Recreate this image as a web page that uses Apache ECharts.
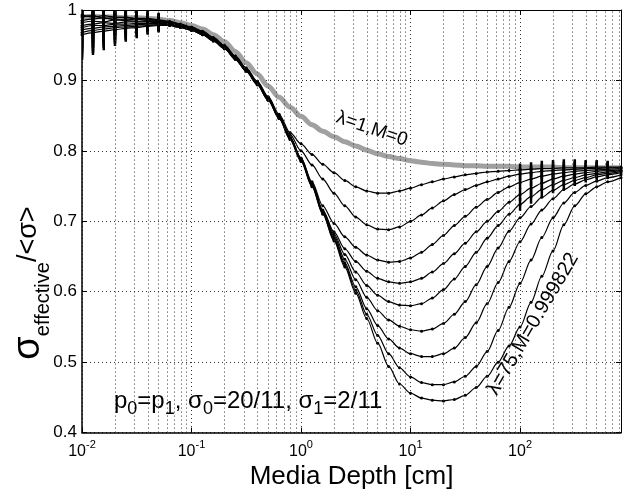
<!DOCTYPE html>
<html><head><meta charset="utf-8">
<script src="https://cdn.jsdelivr.net/npm/echarts@6/dist/echarts.min.js"></script>
<style>html,body{margin:0;padding:0;background:#fff}#c{width:629px;height:495px}</style>
</head><body><div id="c"></div>
<script>
// x samples (cm)
const X = [0.01,0.0126,0.0158,0.02,0.0251,0.0316,0.0398,0.0501,
  0.0631,0.0794,0.1,0.126,0.158,0.2,0.251,0.316,0.398,0.501,0.631,0.794,
  1,1.26,1.58,2,2.51,3.16,3.98,5.01,6.31,7.94,
  10,12.6,15.8,20,25.1,31.6,39.8,50.1,63.1,79.4,
  100,126,158,200,251,316,398,501,631,835];
// lambda=1, M=0 (gray)
const GRAY = [0.99,0.991,0.99,0.99,0.989,0.989,0.988,0.987,
  0.985,0.982,0.978,0.973,0.965,0.955,0.941,0.925,0.909,0.892,0.876,0.862,
  0.849,0.837,0.828,0.82,0.813,0.807,0.801,0.796,0.792,0.789,
  0.786,0.784,0.782,0.781,0.78,0.779,0.779,0.778,0.778,0.778,
  0.777,0.777,0.777,0.777,0.776,0.776,0.776,0.776,0.776,0.776];
const C1 = [0.993,0.99,0.992,0.99,0.989,0.988,0.988,0.986,
  0.984,0.98,0.976,0.97,0.961,0.95,0.935,0.918,0.899,0.877,0.852,0.826,
  0.81,0.795,0.781,0.769,0.758,0.749,0.743,0.74,0.74,0.743,
  0.747,0.752,0.756,0.76,0.763,0.766,0.768,0.77,0.771,0.772,
  0.773,0.774,0.775,0.775,0.776,0.776,0.776,0.777,0.777,0.777];
const C2 = [0.99,0.992,0.988,0.989,0.99,0.987,0.987,0.985,
  0.983,0.979,0.975,0.969,0.96,0.949,0.934,0.917,0.898,0.876,0.85,0.823,
  0.8,0.78,0.76,0.74,0.722,0.706,0.695,0.689,0.688,0.692,
  0.7,0.709,0.719,0.729,0.738,0.745,0.751,0.756,0.76,0.764,
  0.767,0.769,0.771,0.772,0.773,0.774,0.775,0.775,0.776,0.776];
const C3 = [0.985,0.987,0.989,0.986,0.986,0.987,0.985,0.984,
  0.982,0.978,0.974,0.968,0.959,0.948,0.933,0.916,0.897,0.875,0.849,0.82,
  0.79,0.756,0.722,0.697,0.678,0.663,0.652,0.645,0.642,0.643,
  0.648,0.656,0.667,0.68,0.694,0.707,0.72,0.731,0.741,0.749,
  0.755,0.76,0.764,0.767,0.769,0.771,0.772,0.773,0.774,0.775];
const C4 = [0.982,0.984,0.983,0.986,0.985,0.984,0.984,0.983,
  0.981,0.978,0.973,0.967,0.958,0.947,0.932,0.915,0.896,0.874,0.848,0.819,
  0.789,0.754,0.716,0.685,0.661,0.643,0.629,0.619,0.614,0.612,
  0.614,0.619,0.628,0.64,0.654,0.669,0.685,0.7,0.714,0.727,
  0.738,0.747,0.754,0.76,0.764,0.767,0.769,0.771,0.772,0.773];
const C5 = [0.978,0.98,0.982,0.981,0.983,0.983,0.983,0.982,
  0.98,0.977,0.973,0.967,0.958,0.947,0.932,0.915,0.896,0.874,0.848,0.819,
  0.789,0.753,0.715,0.682,0.653,0.628,0.609,0.595,0.586,0.581,
  0.58,0.583,0.591,0.603,0.618,0.636,0.656,0.676,0.694,0.71,
  0.724,0.735,0.745,0.752,0.758,0.762,0.766,0.768,0.77,0.772];
const C6 = [0.975,0.978,0.978,0.98,0.98,0.981,0.981,0.981,
  0.979,0.976,0.972,0.966,0.957,0.946,0.931,0.914,0.895,0.873,0.847,0.818,
  0.788,0.752,0.714,0.679,0.646,0.617,0.592,0.573,0.56,0.551,
  0.546,0.544,0.547,0.555,0.568,0.586,0.61,0.636,0.662,0.686,
  0.705,0.721,0.734,0.744,0.752,0.758,0.762,0.766,0.768,0.771];
const C7 = [0.972,0.974,0.976,0.977,0.978,0.979,0.98,0.98,
  0.979,0.976,0.972,0.966,0.957,0.946,0.931,0.914,0.895,0.873,0.847,0.818,
  0.787,0.751,0.712,0.676,0.641,0.607,0.576,0.552,0.533,0.52,
  0.512,0.508,0.508,0.512,0.52,0.535,0.556,0.583,0.613,0.643,
  0.671,0.696,0.716,0.732,0.745,0.753,0.759,0.763,0.766,0.769];
const C8 = [0.968,0.971,0.973,0.975,0.976,0.977,0.978,0.979,
  0.978,0.975,0.971,0.965,0.956,0.945,0.93,0.913,0.894,0.872,0.846,0.817,
  0.786,0.75,0.711,0.674,0.638,0.602,0.568,0.538,0.512,0.492,
  0.479,0.471,0.468,0.468,0.472,0.48,0.494,0.515,0.545,0.578,
  0.612,0.645,0.677,0.705,0.726,0.741,0.751,0.757,0.762,0.766];
const C9 = [0.965,0.968,0.97,0.972,0.974,0.975,0.977,0.978,
  0.978,0.975,0.971,0.965,0.956,0.945,0.93,0.913,0.894,0.872,0.846,0.816,
  0.785,0.749,0.71,0.672,0.635,0.598,0.562,0.527,0.494,0.469,
  0.456,0.449,0.446,0.445,0.447,0.453,0.464,0.48,0.5,0.523,
  0.55,0.585,0.622,0.658,0.695,0.722,0.739,0.749,0.756,0.762];
// error-bar half widths: first 8 samples (all curves), samples from index RIGHT_START (upper curves)
const ERR_LEFT = [0.036,0.032,0.027,0.023,0.019,0.015,0.012,0.01];
const ERR_RIGHT = [0.009,0.01,0.011,0.012,0.012,0.012,0.011,0.01,0.009];
const RIGHT_START = 40;
const RIGHT_BAR_CURVES = [1,1,1,1,1,0,0,0,0];
// grid values
const X_MINOR = [0.02,0.03,0.04,0.05,0.06,0.07,0.08,0.09,
  0.2,0.3,0.4,0.5,0.6,0.7,0.8,0.9,2,3,4,5,6,7,8,9,
  20,30,40,50,60,70,80,90,200,300,400,500,600,700,800];
const X_MIN = 0.01, X_MAX = 835;
const Y_MIN = 0.4, Y_MAX = 1, Y_STEP = 0.1;

const FONT = '"Liberation Sans", Arial, Helvetica, sans-serif';
const BLACK = [C1,C2,C3,C4,C5,C6,C7,C8,C9];
const pairs = v => X.map((x,i)=>[x, v[i]]);
const errData = [];
BLACK.forEach((v,ci)=>{
  ERR_LEFT.forEach((e,i)=>errData.push([X[i], v[i]-e, v[i]+e]));
  if (RIGHT_BAR_CURVES[ci]) ERR_RIGHT.forEach((e,k)=>{const i=RIGHT_START+k; errData.push([X[i], v[i]-e, v[i]+e]);});
});

const dotted = {type:[1,3], color:'#333', width:1};
const chart = echarts.init(document.getElementById('c'));
const series = [];
series.push({type:'line', data:[], z:1, silent:true,
  markLine:{silent:true, symbol:['none','none'], label:{show:false}, animation:false,
    lineStyle:dotted, data:X_MINOR.map(v=>({xAxis:v}))}});
series.push({type:'line', data:pairs(GRAY), symbol:'none', smooth:0.3, smoothMonotone:'x',
  lineStyle:{color:'#a0a0a0', width:5}, z:2});
BLACK.forEach(v=>series.push({type:'line', data:pairs(v), symbol:'circle', symbolSize:3, smooth:0.3, smoothMonotone:'x',
  itemStyle:{color:'#000'}, lineStyle:{color:'#000', width:1.2}, z:3}));
series.push({type:'custom', data:errData, clip:true, z:4, encode:{x:0,y:[1,2]},
  renderItem:function(params, api){
    const a = api.coord([api.value(0), api.value(1)]);
    const b = api.coord([api.value(0), api.value(2)]);
    return {type:'line', shape:{x1:a[0],y1:a[1],x2:b[0],y2:b[1]}, style:{stroke:'#000', lineWidth:2.5}};
  }});

chart.setOption({
  animation:false,
  grid:{left:82, right:8, top:10, bottom:60, containLabel:false},
  xAxis:[{type:'log', logBase:10, min:X_MIN, max:X_MAX,
    name:'Media Depth [cm]', nameLocation:'middle', nameGap:30,
    nameTextStyle:{fontFamily:FONT, fontSize:26, color:'#000'},
    axisLine:{lineStyle:{color:'#000', width:1.5}},
    axisTick:{inside:true, length:5, lineStyle:{color:'#000'}},
    splitLine:{show:true, lineStyle:dotted},
    axisLabel:{margin:7, color:'#000', fontFamily:FONT,
      formatter:function(v){const e=Math.log10(v); if (Math.abs(e-Math.round(e))>1e-6) return ''; return '{b|10}{s|'+Math.round(e)+'}';},
      rich:{b:{fontSize:16, fontFamily:FONT, color:'#000'}, s:{fontSize:11, fontFamily:FONT, color:'#000', padding:[0,0,12,0]}}}},
   {type:'log', logBase:10, min:X_MIN, max:X_MAX, position:'top',
    axisLine:{lineStyle:{color:'#000', width:1}}, axisTick:{inside:true, length:5, lineStyle:{color:'#000'}},
    axisLabel:{show:false}, splitLine:{show:false}}],
  yAxis:[{type:'value', min:Y_MIN, max:Y_MAX, interval:Y_STEP,
    axisLine:{show:true, lineStyle:{color:'#000', width:1.5}},
    axisTick:{show:true, inside:true, length:5, lineStyle:{color:'#000'}},
    splitLine:{show:true, lineStyle:dotted},
    axisLabel:{margin:5, color:'#000', fontFamily:FONT, fontSize:17}},
   {type:'value', min:Y_MIN, max:Y_MAX, interval:Y_STEP, position:'right',
    axisLine:{show:true, lineStyle:{color:'#000', width:1}},
    axisTick:{show:true, inside:true, length:5, lineStyle:{color:'#000'}},
    axisLabel:{show:false}, splitLine:{show:false}}],
  series:series,
  graphic:[
    {type:'text', x:29, y:283, rotation:Math.PI/2, silent:true,
      style:{text:'{s|σ}{sub|effective}{r|/<σ>}', align:'center', verticalAlign:'middle', textAlign:'center', textVerticalAlign:'middle',
        rich:{s:{fontSize:38, fontFamily:FONT, fill:'#000'}, sub:{fontSize:20, fontFamily:FONT, fill:'#000', padding:[28,0,0,0]}, r:{fontSize:27, fontFamily:FONT, fill:'#000'}}}},
    {type:'text', x:372, y:129, rotation:-0.33, silent:true,
      style:{text:'λ=1,M=0', fontSize:19, fontFamily:FONT, fill:'#000', align:'center', verticalAlign:'middle', textAlign:'center', textVerticalAlign:'middle'}},
    {type:'text', x:533, y:324, rotation:1.037, silent:true,
      style:{text:'λ=75,M=0.999822', fontSize:20, fontFamily:FONT, fill:'#000', align:'center', verticalAlign:'middle', textAlign:'center', textVerticalAlign:'middle'}},
    {type:'text', x:114, y:401, silent:true,
      style:{text:'{m|p}{sub|0}{m|=p}{sub|1}{m|, σ}{sub|0}{m|=20/11, σ}{sub|1}{m|=2/11}', align:'left', verticalAlign:'middle', textAlign:'left', textVerticalAlign:'middle',
        rich:{m:{fontSize:24, fontFamily:FONT, fill:'#000'}, sub:{fontSize:18, fontFamily:FONT, fill:'#000', padding:[16,0,0,0]}}}}
  ]
});
</script></body></html>
